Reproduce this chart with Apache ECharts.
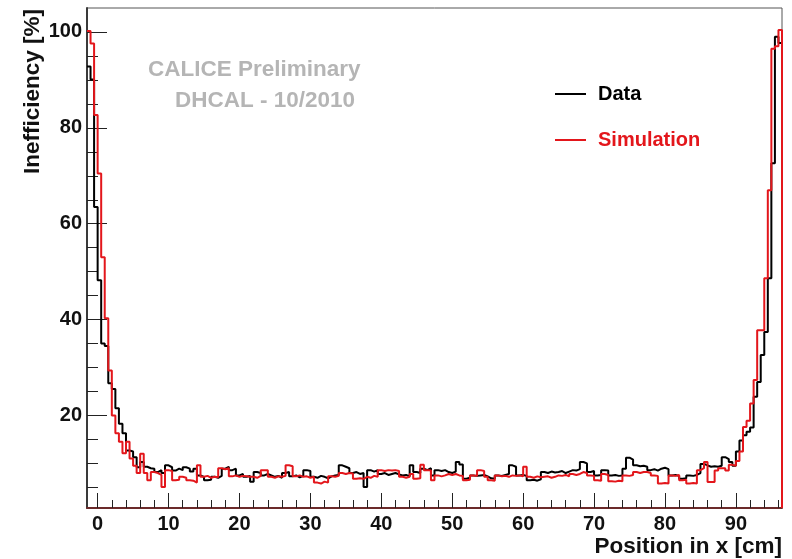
<!DOCTYPE html>
<html>
<head>
<meta charset="utf-8">
<script src="https://cdn.jsdelivr.net/npm/echarts@6/dist/echarts.min.js"></script>
<style>
  html, body { margin: 0; padding: 0; background: #ffffff; }
  #chart { width: 792px; height: 559px; }
</style>
</head>
<body>
<div id="chart"></div>
<script>
// Histogram binning: 0.5 cm bins starting at -1.5 cm
const BIN_START = -1.5;
const BIN_WIDTH = 0.5;

// Inefficiency [%] per bin, measured data
const dataValues = [
  92.8, 90.1, 63.5, 48.2, 35.0, 34.5, 26.7, 25.5, 21.5, 18.3,
  16.3, 12.7, 12.5, 11.3, 9.2, 10.3, 9.3, 9.0, 8.9, 8.2,
  8.6, 8.0, 9.6, 9.2, 8.5, 8.9, 8.6, 9.2, 8.9, 8.3,
  8.9, 7.5, 7.2, 6.5, 6.6, 7.2, 7.0, 7.4, 8.9, 9.3,
  8.6, 8.9, 7.5, 7.8, 7.2, 7.4, 6.2, 8.2, 8.0, 7.5,
  7.8, 7.5, 7.2, 7.4, 7.0, 8.0, 8.2, 7.3, 7.5, 7.1,
  7.4, 8.6, 8.4, 7.2, 7.0, 7.4, 7.2, 6.9, 7.3, 7.5,
  7.6, 9.6, 9.3, 9.0, 8.0, 8.2, 7.8, 8.0, 5.1, 8.6,
  8.3, 8.6, 7.8, 8.0, 7.6, 7.8, 8.0, 7.7, 7.5, 7.6,
  7.3, 9.6, 8.2, 8.0, 8.9, 8.6, 9.0, 7.5, 8.6, 8.4,
  8.6, 8.2, 8.0, 8.3, 10.3, 9.8, 6.8, 7.0, 7.5, 7.4,
  7.5, 7.6, 7.3, 6.9, 6.8, 7.5, 7.4, 7.6, 7.8, 9.6,
  9.3, 7.5, 7.6, 7.4, 6.5, 6.6, 6.4, 6.7, 8.2, 8.0,
  8.3, 8.1, 8.2, 8.4, 8.0, 8.3, 8.6, 8.5, 8.8, 10.3,
  10.0, 8.2, 8.4, 7.5, 7.6, 8.6, 8.5, 7.5, 7.6, 7.4,
  7.5, 8.9, 11.2, 10.8, 9.6, 9.4, 9.5, 9.3, 8.6, 8.8,
  8.5, 8.9, 9.1, 8.8, 7.5, 7.6, 7.4, 6.8, 6.9, 7.5,
  7.4, 7.6, 8.0, 9.9, 9.6, 9.3, 9.4, 9.3, 9.5, 11.3,
  10.9, 10.3, 9.5, 12.5, 14.8, 15.9, 16.6, 17.5, 23.9, 27.0,
  32.6, 37.4, 48.6, 72.6, 99.0, 97.7
];

// Inefficiency [%] per bin, simulation
const simValues = [
  100.2, 97.6, 82.7, 70.5, 53.0, 40.3, 29.4, 20.0, 16.3, 14.5,
  12.1, 14.5, 11.0, 9.5, 8.0, 12.0, 8.0, 6.5, 8.2, 8.0,
  7.6, 5.1, 8.6, 8.4, 6.5, 6.6, 7.2, 7.0, 6.5, 6.4,
  6.0, 9.6, 7.2, 7.4, 7.0, 7.2, 7.1, 9.0, 8.8, 9.0,
  7.3, 7.5, 7.2, 7.4, 7.3, 7.2, 7.2, 7.0, 7.4, 8.6,
  8.6, 7.2, 7.0, 7.3, 7.2, 7.4, 9.6, 9.4, 7.3, 7.5,
  7.2, 7.3, 7.0, 7.2, 6.0, 5.8, 6.2, 6.0, 7.3, 7.2,
  7.4, 8.0, 7.8, 8.0, 7.9, 6.8, 6.9, 6.8, 7.2, 7.0,
  7.4, 7.2, 8.6, 8.4, 8.6, 8.5, 8.6, 8.4, 7.2, 7.0,
  7.2, 7.8, 6.8, 6.9, 9.7, 8.6, 8.5, 6.5, 7.5, 7.3,
  7.5, 7.8, 7.6, 7.8, 7.5, 7.4, 6.5, 6.6, 7.5, 7.4,
  8.6, 8.4, 7.2, 6.5, 6.4, 7.5, 7.3, 7.4, 7.2, 7.5,
  7.4, 7.5, 7.3, 9.3, 7.2, 7.0, 7.3, 7.1, 7.2, 7.3,
  7.0, 7.2, 7.5, 7.4, 7.6, 7.3, 7.8, 7.6, 7.8, 8.2,
  8.0, 7.5, 7.4, 6.5, 6.4, 7.8, 7.6, 6.3, 6.2, 6.4,
  6.3, 7.5, 7.4, 7.6, 8.2, 8.0, 8.2, 8.2, 8.0, 7.5,
  7.4, 5.8, 5.9, 5.8, 7.5, 7.4, 7.6, 6.5, 6.6, 5.8,
  5.9, 5.8, 8.6, 9.0, 10.3, 6.1, 6.1, 8.5, 9.0, 9.0,
  8.5, 9.7, 9.5, 10.5, 12.5, 17.6, 18.9, 22.5, 27.4, 37.8,
  37.8, 48.6, 67.0, 96.5, 97.0, 100.4
];

// Axis ranges and tick positions
const X_MIN = -1.5;
const X_MAX = 96.5;
const Y_MIN = 0.7;
const Y_MAX = 105;
const xMajorTicks = [0, 10, 20, 30, 40, 50, 60, 70, 80, 90];
const xMinorTicks = [2, 4, 6, 8, 12, 14, 16, 18, 22, 24, 26, 28, 32, 34, 36, 38,
  42, 44, 46, 48, 52, 54, 56, 58, 62, 64, 66, 68, 72, 74, 76, 78,
  82, 84, 86, 88, 92, 94, 96];
const yMajorTicks = [20, 40, 60, 80, 100];
const yMinorTicks = [5, 10, 15, 25, 30, 35, 45, 50, 55, 65, 70, 75, 85, 90, 95];

const FONT = '"Liberation Sans", Arial, Helvetica, sans-serif';
const RED = '#e3161b';

// Bin contents -> step outline points (one point per bin edge),
// closing down to the axis floor after the last bin.
function outline(values) {
  const pts = values.map((v, i) => [BIN_START + i * BIN_WIDTH, v]);
  const endEdge = BIN_START + values.length * BIN_WIDTH;
  pts.push([endEdge, values[values.length - 1]]);
  pts.push([endEdge, Y_MIN]);
  return pts;
}

const chart = echarts.init(document.getElementById('chart'), null, { renderer: 'canvas' });

const baseX = {
  type: 'value', min: X_MIN, max: X_MAX, position: 'bottom',
  splitLine: { show: false }
};
const baseY = {
  type: 'value', min: Y_MIN, max: Y_MAX, position: 'left',
  splitLine: { show: false }
};

chart.setOption({
  animation: false,
  backgroundColor: '#ffffff',
  grid: {
    left: 87, right: 10, top: 8, bottom: 51,
    show: true, borderColor: '#555555', borderWidth: 1
  },
  xAxis: [
    Object.assign({}, baseX, {
      axisLine: { show: true, onZero: false, lineStyle: { color: '#6b2a2a', width: 2 } },
      axisTick: { show: true, inside: true, length: 15, customValues: xMajorTicks,
        lineStyle: { color: '#222222', width: 1 } },
      axisLabel: { show: true, customValues: xMajorTicks, margin: 6,
        color: '#111111', fontFamily: FONT, fontWeight: 'bold', fontSize: 20 }
    }),
    Object.assign({}, baseX, {
      axisLine: { show: false, onZero: false },
      axisTick: { show: true, inside: true, length: 8, customValues: xMinorTicks,
        lineStyle: { color: '#222222', width: 1 } },
      axisLabel: { show: false }
    })
  ],
  yAxis: [
    Object.assign({}, baseY, {
      axisLine: { show: true, onZero: false, lineStyle: { color: '#3a3a3a', width: 2 } },
      axisTick: { show: true, inside: true, length: 20, customValues: yMajorTicks,
        lineStyle: { color: '#222222', width: 1 } },
      axisLabel: { show: true, customValues: yMajorTicks, margin: 5,
        color: '#111111', fontFamily: FONT, fontWeight: 'bold', fontSize: 20 }
    }),
    Object.assign({}, baseY, {
      axisLine: { show: false, onZero: false },
      axisTick: { show: true, inside: true, length: 11, customValues: yMinorTicks,
        lineStyle: { color: '#222222', width: 1 } },
      axisLabel: { show: false }
    })
  ],
  legend: {
    orient: 'vertical',
    left: 555, top: 84,
    padding: 0,
    itemWidth: 31, itemHeight: 2,
    itemGap: 26,
    icon: 'rect',
    textStyle: { fontFamily: FONT, fontWeight: 'bold', fontSize: 20, padding: [0, 0, 0, 7] },
    data: [
      { name: 'Data', textStyle: { color: '#000000' } },
      { name: 'Simulation', textStyle: { color: RED } }
    ]
  },
  series: [
    {
      name: 'Data', type: 'line', step: 'end',
      xAxisIndex: 0, yAxisIndex: 0,
      showSymbol: false, symbol: 'none',
      lineStyle: { color: '#000000', width: 2 },
      itemStyle: { color: '#000000' },
      data: outline(dataValues), z: 3
    },
    {
      name: 'Simulation', type: 'line', step: 'end',
      xAxisIndex: 0, yAxisIndex: 0,
      showSymbol: false, symbol: 'none',
      lineStyle: { color: RED, width: 2 },
      itemStyle: { color: RED },
      data: outline(simValues), z: 4
    }
  ],
  graphic: [
    {
      type: 'text', x: 33, y: 9, rotation: Math.PI / 2,
      style: { text: 'Inefficiency [%]', font: 'bold 22.5px ' + FONT,
        fill: '#111111', align: 'right', verticalAlign: 'middle' }
    },
    {
      type: 'text', x: 782, y: 547,
      style: { text: 'Position in x [cm]', font: 'bold 22.5px ' + FONT,
        fill: '#111111', align: 'right', verticalAlign: 'middle' }
    },
    {
      type: 'text', x: 148, y: 70,
      style: { text: 'CALICE Preliminary', font: 'bold 22.5px ' + FONT,
        fill: '#b5b5b5', align: 'left', verticalAlign: 'middle' }
    },
    {
      type: 'text', x: 175, y: 101,
      style: { text: 'DHCAL - 10/2010', font: 'bold 22.5px ' + FONT,
        fill: '#b5b5b5', align: 'left', verticalAlign: 'middle' }
    }
  ]
});
</script>
</body>
</html>
